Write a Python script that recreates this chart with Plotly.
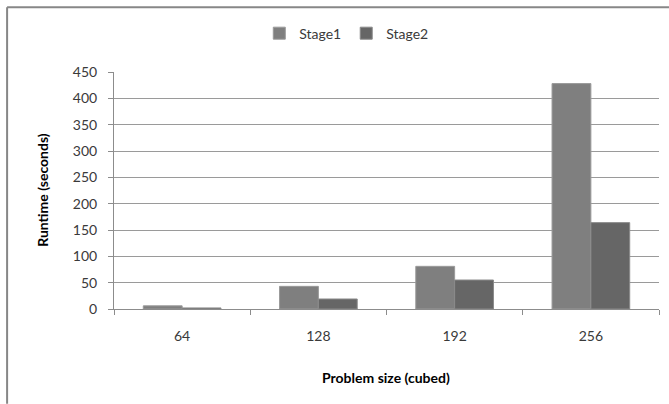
import plotly.graph_objects as go

# Runtime per stage for each problem size
sizes = ["64", "128", "192", "256"]
stage1 = [6, 43, 81, 428]
stage2 = [2, 19, 55, 164]

FONT = "Lato, 'Open Sans', sans-serif"

fig = go.Figure()
fig.add_trace(go.Bar(
    name="Stage1", x=sizes, y=stage1,
    marker=dict(color="#7f7f7f", line=dict(color="#9a9a9a", width=1)),
))
fig.add_trace(go.Bar(
    name="Stage2", x=sizes, y=stage2,
    marker=dict(color="#666666", line=dict(color="#8a8a8a", width=1)),
))

W, H = 669, 404
L, R, T, B = 113.5, 10, 71.5, 95
pw = W - L - R
ph = H - T - B


def px(x):
    return (x - L) / pw


def py(y):
    return (H - B - y) / ph


fig.update_layout(
    width=W, height=H,
    margin=dict(l=L, r=R, t=T, b=B, pad=0),
    paper_bgcolor="white", plot_bgcolor="white",
    barmode="group", bargap=0.43, bargroupgap=0,
    font=dict(family=FONT, size=14, color="#3a3a3a"),
    showlegend=True,
    legend=dict(
        orientation="h", x=px(346), y=py(33),
        xanchor="center", yanchor="middle",
        font=dict(size=14, color="#3a3a3a"),
        itemwidth=30, bgcolor="rgba(0,0,0,0)",
    ),
    xaxis=dict(
        type="category", tickson="boundaries",
        ticks="outside", ticklen=5, tickcolor="#8c8c8c",
        showline=True, linecolor="#8c8c8c", linewidth=1,
        showgrid=False, ticklabelstandoff=14,
    ),
    yaxis=dict(
        range=[0, 450], dtick=50,
        ticks="outside", ticklen=5, tickcolor="#8c8c8c",
        showline=True, linecolor="#8c8c8c", linewidth=1,
        showgrid=True, gridcolor="#9a9a9a", gridwidth=1,
        zeroline=False, ticklabelstandoff=8,
    ),
    annotations=[
        dict(text="<b>Runtime (seconds)</b>", textangle=-90,
             xref="paper", yref="paper", x=px(42), y=py(190),
             xanchor="center", yanchor="middle", showarrow=False,
             font=dict(size=14, color="#000000")),
        dict(text="<b>Problem size (cubed)</b>",
             xref="paper", yref="paper", x=px(386), y=py(378),
             xanchor="center", yanchor="middle", showarrow=False,
             font=dict(size=14, color="#000000")),
    ],
    shapes=[
        # chart frame (left and top edges)
        dict(type="line", xref="paper", yref="paper",
             x0=px(6.5), x1=px(6.5), y0=py(6.5), y1=py(404),
             line=dict(color="#878787", width=2)),
        dict(type="line", xref="paper", yref="paper",
             x0=px(6.5), x1=px(669), y0=py(6.5), y1=py(6.5),
             line=dict(color="#878787", width=2)),
    ],
)

fig.write_html("out.html")
